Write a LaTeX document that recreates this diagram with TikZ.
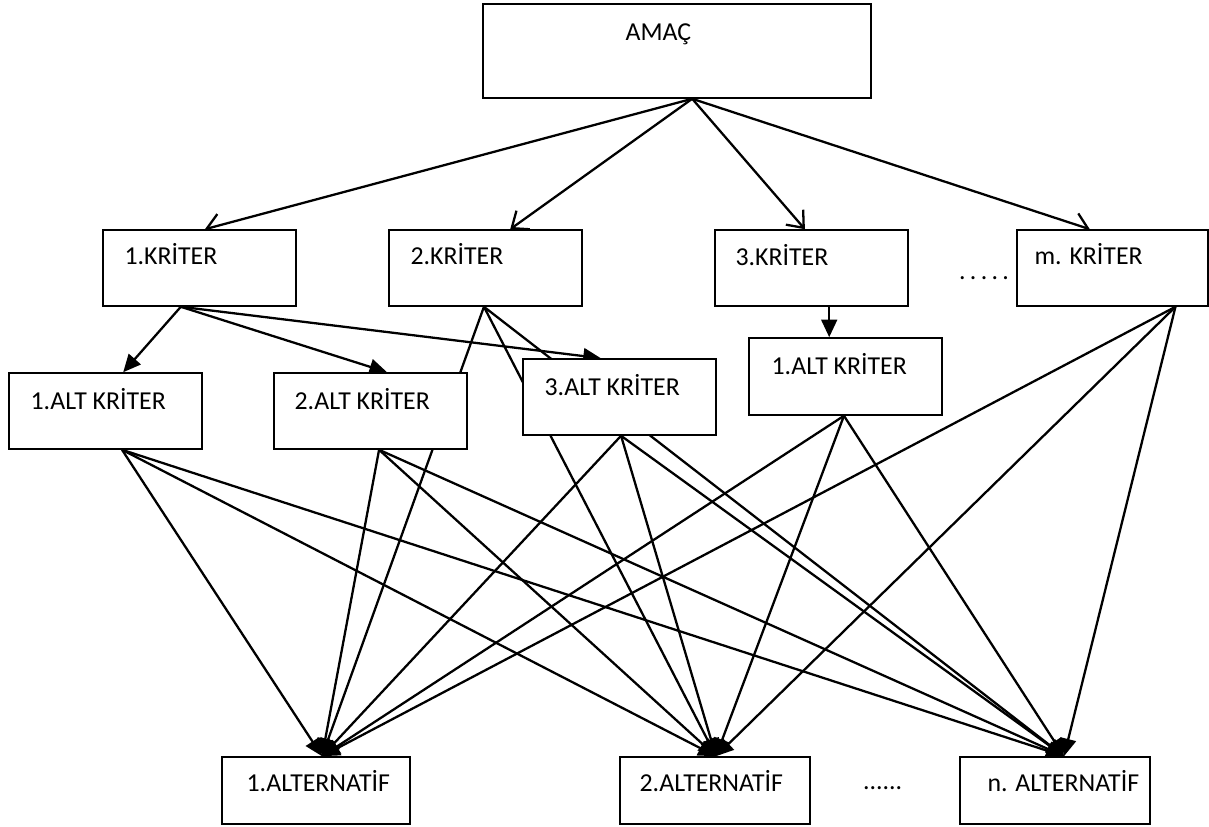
\documentclass[tikz,border=0pt]{standalone}
\usepackage{fontspec}
\setmainfont{Carlito}
\usetikzlibrary{calc}
\usetikzlibrary{arrows.meta}
\pgfdeclarelayer{bg}
\pgfsetlayers{bg,main}

\tikzset{
  kutu/.style={draw=black,fill=white,line width=0.9pt,inner sep=0pt},
  yazi/.style={anchor=base west,inner sep=0pt,font=\fontsize{14.7}{17}\selectfont},
  acik/.style={-{Straight Barb[length=8pt,width=13pt]},line width=1.3pt},
  dolu/.style={-{Triangle[length=10pt,width=9pt]},line width=1.3pt}
}

\begin{document}
\begin{tikzpicture}[x=0.02cm,y=-0.02cm]
    \useasboundingbox (0,0) rectangle (1209,827);
    % kutular
    \node[kutu,minimum width=7.76cm,minimum height=1.88cm] (amac) at (677,51) {};
    \node[kutu,minimum width=3.86cm,minimum height=1.52cm] (k1) at (199.5,268) {};
    \node[kutu,minimum width=3.86cm,minimum height=1.52cm] (k2) at (485.5,268) {};
    \node[kutu,minimum width=3.86cm,minimum height=1.52cm] (k3) at (811.5,268) {};
    \node[kutu,minimum width=3.82cm,minimum height=1.52cm] (km) at (1112.5,268) {};
    \node[kutu,minimum width=3.86cm,minimum height=1.52cm] (a1) at (105.5,411) {};
    \node[kutu,minimum width=3.86cm,minimum height=1.52cm] (a2) at (370.5,411) {};
    \node[kutu,minimum width=3.86cm,minimum height=1.52cm] (a3) at (619.5,397) {};
    \node[kutu,minimum width=3.86cm,minimum height=1.54cm] (a4) at (845.5,376.5) {};
    \node[kutu,minimum width=3.76cm,minimum height=1.34cm] (alt1) at (316,790.5) {};
    \node[kutu,minimum width=3.80cm,minimum height=1.34cm] (alt2) at (715,790.5) {};
    \node[kutu,minimum width=3.80cm,minimum height=1.34cm] (altn) at (1055,790.5) {};
    % yazilar
    \node[yazi] (amac-t) at ($(amac.north west)+(143,37)$) {AMAÇ};
    \node[yazi] (k1-t) at ($(k1.north west)+(22,35)$) {1.KRİTER};
    \node[yazi] (k2-t) at ($(k2.north west)+(22,35)$) {2.KRİTER};
    \node[yazi] (k3-t) at ($(k3.north west)+(21,36)$) {3.KRİTER};
    \node[yazi] (km-t) at ($(km.north west)+(18,35)$) {m. KRİTER};
    \node[yazi] (a1-t) at ($(a1.north west)+(22,37)$) {1.ALT KRİTER};
    \node[yazi] (a2-t) at ($(a2.north west)+(21,37)$) {2.ALT KRİTER};
    \node[yazi] (a3-t) at ($(a3.north west)+(22,37)$) {3.ALT KRİTER};
    \node[yazi] (a4-t) at ($(a4.north west)+(23,37)$) {1.ALT KRİTER};
    \node[yazi] (alt1-t) at ($(alt1.north west)+(25,35)$) {1.ALTERNATİF};
    \node[yazi] (alt2-t) at ($(alt2.north west)+(20,35)$) {2.ALTERNATİF};
    \node[yazi] (altn-t) at ($(altn.north west)+(28,35)$) {n. ALTERNATİF};
    \node[yazi] (nokta1) at ($(k3.north east)+(50,50)$) {.\,.\,.\,.\,.};
    \node[yazi] (nokta2) at ($(alt2.north east)+(52,33)$) {......};
    % uclar
    \coordinate (amac-o) at ($(amac.south west)!.539!(amac.south east)$);
    \coordinate (k1-i) at ($(k1.north west)!.528!(k1.north east)$);
    \coordinate (k2-i) at ($(k2.north west)!.627!(k2.north east)$);
    \coordinate (k3-i) at ($(k3.north west)!.466!(k3.north east)$);
    \coordinate (km-i) at ($(km.north west)!.382!(km.north east)$);
    \coordinate (k1-o) at ($(k1.south west)!.404!(k1.south east)$);
    \coordinate (k2-o) at ($(k2.south west)!.492!(k2.south east)$);
    \coordinate (k3-o) at ($(k3.south west)!.591!(k3.south east)$);
    \coordinate (km-o) at ($(km.south west)!.827!(km.south east)$);
    \coordinate (a1-i) at ($(a1.north west)!.591!(a1.north east)$);
    \coordinate (a2-i) at ($(a2.north west)!.585!(a2.north east)$);
    \coordinate (a3-i) at ($(a3.north west)!.404!(a3.north east)$);
    \coordinate (a1-o) at ($(a1.south west)!.585!(a1.south east)$);
    \coordinate (a2-o) at ($(a2.south west)!.544!(a2.south east)$);
    \coordinate (a3-o) at ($(a3.south west)!.508!(a3.south east)$);
    \coordinate (a4-o) at ($(a4.south west)!.492!(a4.south east)$);
    \coordinate (alt1-i) at ($(alt1.north west)!.532!(alt1.north east)$);
    \coordinate (alt2-i) at ($(alt2.north west)!.505!(alt2.north east)$);
    \coordinate (altn-i) at ($(altn.north west)!.547!(altn.north east)$);
    % oklar
    \begin{pgfonlayer}{bg}
    \draw[acik] (amac-o)--(k1-i);
    \draw[acik] (amac-o)--(k2-i);
    \draw[acik] (amac-o)--(k3-i);
    \draw[acik] (amac-o)--(km-i);
    \draw[dolu] (k1-o)--(a1-i);
    \draw[dolu] (k1-o)--(a2-i);
    \draw[dolu] (k1-o)--(a3-i);
    \draw[dolu] (k3-o)--(k3-o |- a4.north);
    \draw[dolu] (k2-o)--(alt1-i);
    \draw[dolu] (k2-o)--(alt2-i);
    \draw[dolu] (k2-o)--(altn-i);
    \draw[dolu] (a1-o)--(alt1-i);
    \draw[dolu] (a1-o)--(alt2-i);
    \draw[dolu] (a1-o)--(altn-i);
    \draw[dolu] (a2-o)--(alt1-i);
    \draw[dolu] (a2-o)--(alt2-i);
    \draw[dolu] (a2-o)--(altn-i);
    \draw[dolu] (a3-o)--(alt1-i);
    \draw[dolu] (a3-o)--(alt2-i);
    \draw[dolu] (a3-o)--(altn-i);
    \draw[dolu] (a4-o)--(alt1-i);
    \draw[dolu] (a4-o)--(alt2-i);
    \draw[dolu] (a4-o)--(altn-i);
    \draw[dolu] (km-o)--(alt1-i);
    \draw[dolu] (km-o)--(alt2-i);
    \draw[dolu] (km-o)--(altn-i);
    \end{pgfonlayer}
  \end{tikzpicture}
\end{document}
